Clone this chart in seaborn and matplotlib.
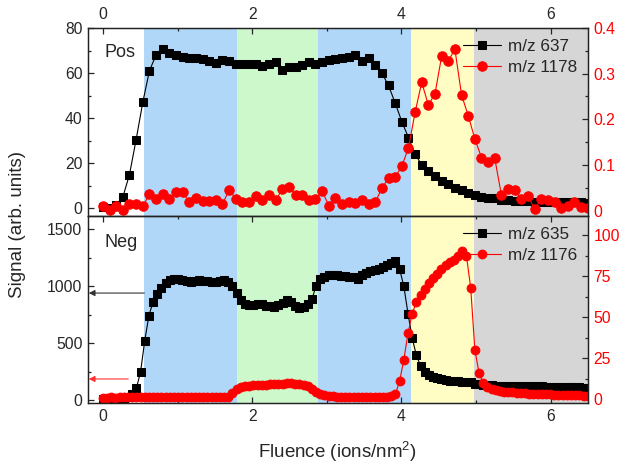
import pandas as pd
import seaborn as sns
import matplotlib.pyplot as plt
from matplotlib.ticker import MultipleLocator

# ---- data ----
fluence_pos = [0, 0.089, 0.178, 0.267, 0.356, 0.445, 0.534, 0.623, 0.712, 0.801,
               0.89, 0.979, 1.068, 1.157, 1.246, 1.335, 1.424, 1.513, 1.602, 1.691,
               1.78, 1.869, 1.958, 2.047, 2.136, 2.225, 2.314, 2.403, 2.492, 2.581,
               2.67, 2.759, 2.848, 2.937, 3.026, 3.115, 3.204, 3.293, 3.382, 3.471,
               3.56, 3.649, 3.738, 3.827, 3.916, 4.005, 4.094, 4.183, 4.272, 4.361,
               4.45, 4.539, 4.628, 4.717, 4.806, 4.895, 4.984, 5.073, 5.162, 5.251,
               5.34, 5.429, 5.518, 5.607, 5.696, 5.785, 5.874, 5.963, 6.052, 6.141,
               6.23, 6.319, 6.408, 6.497]
mz637 = [0.5, 0.3, 1.5, 5, 15, 30.5, 47, 61, 68, 70.5,
         69, 68, 67.3, 66.8, 66.7, 66.3, 65.5, 64.5, 66, 65.5,
         64, 64, 64.2, 63.8, 63, 63.8, 65, 61.5, 62.5, 62.6,
         63.5, 65, 63.8, 65, 65.8, 66.4, 66.8, 67.2, 67.9, 65.5,
         66.7, 63.7, 60, 54.5, 46.7, 38.5, 31.4, 24, 19.3, 16.7,
         14.3, 12.1, 10.6, 9.1, 8.1, 6.9, 5.9, 5.1, 4.6, 4.4,
         3.9, 3.7, 3.4, 3.3, 3.1, 3.0, 3.0, 2.9, 2.8, 2.8,
         2.7, 2.6, 2.6, 2.5]
mz1178 = [0.009, 0.001, 0.011, 0.001, 0.014, 0.014, 0.009, 0.036, 0.026, 0.036,
          0.026, 0.040, 0.040, 0.019, 0.027, 0.021, 0.020, 0.023, 0.014, 0.045,
          0.026, 0.019, 0.019, 0.031, 0.022, 0.033, 0.022, 0.047, 0.051, 0.035,
          0.033, 0.024, 0.025, 0.043, 0.011, 0.028, 0.015, 0.018, 0.017, 0.022,
          0.015, 0.018, 0.049, 0.071, 0.073, 0.097, 0.137, 0.215, 0.281, 0.231,
          0.256, 0.338, 0.328, 0.353, 0.253, 0.208, 0.157, 0.116, 0.106, 0.114,
          0.034, 0.048, 0.044, 0.025, 0.032, 0.003, 0.025, 0.023, 0.018, 0.005,
          0.011, 0.018, 0.007, 0.005]

fluence_neg = [0, 0.056, 0.112, 0.168, 0.224, 0.28, 0.336, 0.392, 0.448, 0.504,
               0.56, 0.616, 0.672, 0.728, 0.784, 0.84, 0.896, 0.952, 1.008, 1.064,
               1.12, 1.176, 1.232, 1.288, 1.344, 1.4, 1.456, 1.512, 1.568, 1.624,
               1.68, 1.736, 1.792, 1.848, 1.904, 1.96, 2.016, 2.072, 2.128, 2.184,
               2.24, 2.296, 2.352, 2.408, 2.464, 2.52, 2.576, 2.632, 2.688, 2.744,
               2.8, 2.856, 2.912, 2.968, 3.024, 3.08, 3.136, 3.192, 3.248, 3.304,
               3.36, 3.416, 3.472, 3.528, 3.584, 3.64, 3.696, 3.752, 3.808, 3.864,
               3.92, 3.976, 4.032, 4.088, 4.144, 4.2, 4.256, 4.312, 4.368, 4.424,
               4.48, 4.536, 4.592, 4.648, 4.704, 4.76, 4.816, 4.872, 4.928, 4.984,
               5.04, 5.096, 5.152, 5.208, 5.264, 5.32, 5.376, 5.432, 5.488, 5.544,
               5.6, 5.656, 5.712, 5.768, 5.824, 5.88, 5.936, 5.992, 6.048, 6.104,
               6.16, 6.216, 6.272, 6.328, 6.384, 6.44, 6.496]
mz635 = [5, 5, 5, 6, 8, 12, 25, 50, 103, 245,
         520, 740, 865, 930, 985, 1030, 1058, 1066, 1064, 1058,
         1050, 1040, 1045, 1052, 1050, 1048, 1035, 1040, 1046, 1052,
         1040, 1000, 940, 880, 848, 834, 835, 841, 846, 830,
         822, 820, 832, 850, 880, 860, 825, 812, 818, 840,
         885, 1002, 1060, 1084, 1096, 1098, 1098, 1092, 1088, 1084,
         1078, 1062, 1100, 1118, 1132, 1140, 1150, 1170, 1190, 1205,
         1222, 1150, 1000, 760, 545, 395, 300, 248, 222, 205,
         190, 182, 175, 168, 165, 163, 160, 158, 155, 145,
         138, 134, 131, 129, 127, 126, 125, 124, 123, 123,
         122, 121, 121, 120, 119, 119, 118, 117, 117, 116,
         115, 114, 113, 112, 111, 110, 109]
mz1176 = [0.8, 0.9, 1.0, 0.9, 1.0, 1.1, 1.0, 1.0, 1.1, 1.0,
          1.1, 1.0, 1.1, 1.2, 1.1, 1.0, 1.1, 1.2, 1.1, 1.1,
          1.2, 1.1, 1.2, 1.1, 1.2, 1.3, 1.2, 1.3, 1.4, 1.5,
          1.5, 3.5, 6, 7.5, 8, 8.2, 8.3, 8.5, 8.6, 8.8,
          8.9, 9, 9.1, 9.2, 9.8, 9.5, 9.3, 9.2, 8.8, 7.8,
          6, 4, 2.8, 2.2, 1.8, 1.6, 1.5, 1.4, 1.4, 1.4,
          1.4, 1.4, 1.4, 1.4, 1.4, 1.4, 1.4, 1.4, 1.5, 1.6,
          3, 11, 24, 40, 52, 59, 63.5, 67, 70.5, 73.5,
          76.5, 79, 81.5, 83.5, 85, 87.5, 90, 87, 68, 30,
          16, 9.5, 7.5, 6.3, 5.5, 5, 4.6, 4.3, 4, 3.8,
          3.6, 3.4, 3.3, 3.2, 3.1, 3, 2.9, 2.8, 2.7, 2.6,
          2.5, 2.4, 2.3, 2.3, 2.2, 2.1, 2.0]

# fluence ranges of the shaded regions
region_edges = [0.555, 1.8, 2.88, 4.125, 4.97, 6.6]
region_colors = ['#b0d6f8', '#ccf8cc', '#b0d6f8', '#fffcc4', '#d6d6d6']

pos = pd.DataFrame({'fluence': fluence_pos, 'm637': mz637, 'm1178': mz1178})
neg = pd.DataFrame({'fluence': fluence_neg, 'm635': mz635, 'm1176': mz1176})

sns.set_style('ticks')
plt.rcParams['font.family'] = ['Liberation Sans', 'DejaVu Sans']
plt.rcParams['mathtext.default'] = 'regular'

fig = plt.figure(figsize=(6.29, 4.71), dpi=100)
ax_top = fig.add_axes([0.1399, 0.5414, 0.7949, 0.3992])
ax_bot = fig.add_axes([0.1399, 0.1444, 0.7949, 0.397])
ax_top_r = ax_top.twinx()
ax_bot_r = ax_bot.twinx()

for ax in (ax_top, ax_bot):
    for i, c in enumerate(region_colors):
        ax.axvspan(region_edges[i], region_edges[i + 1], color=c, lw=0, zorder=0)

line_kw = dict(linewidth=0.8, errorbar=None)
sns.lineplot(data=pos, x='fluence', y='m637', ax=ax_top, color='black', marker='s',
             markersize=5.5, markeredgecolor='black', label='m/z 637', **line_kw)
sns.lineplot(data=pos, x='fluence', y='m1178', ax=ax_top_r, color='red', marker='o',
             markersize=6.8, markeredgecolor='red', label='m/z 1178', **line_kw)
sns.lineplot(data=neg, x='fluence', y='m635', ax=ax_bot, color='black', marker='s',
             markersize=5.5, markeredgecolor='black', label='m/z 635', **line_kw)
sns.lineplot(data=neg, x='fluence', y='m1176', ax=ax_bot_r, color='red', marker='o',
             markersize=6.3, markeredgecolor='red', label='m/z 1176', **line_kw)

for ax in (ax_top, ax_bot, ax_top_r, ax_bot_r):
    ax.set_xlim(-0.2, 6.5)
    ax.set_xlabel('')
    ax.set_ylabel('')
    if ax.get_legend():
        ax.get_legend().remove()
    for s in ax.spines.values():
        s.set_visible(True)
        s.set_linewidth(0.9)
        s.set_color('#222222')

ax_top.set_ylim(-3.4, 80)
ax_top_r.set_ylim(-0.012, 0.4)
ax_bot.set_ylim(-26, 1617)
ax_bot_r.set_ylim(-2.4, 111.6)

ax_top.yaxis.set_major_locator(MultipleLocator(20))
ax_top.yaxis.set_minor_locator(MultipleLocator(10))
ax_top_r.set_yticks([0, 0.1, 0.2, 0.3, 0.4], labels=['0', '0.1', '0.2', '0.3', '0.4'])
ax_top_r.yaxis.set_minor_locator(MultipleLocator(0.05))
ax_bot.yaxis.set_major_locator(MultipleLocator(500))
ax_bot.yaxis.set_minor_locator(MultipleLocator(250))
ax_bot_r.yaxis.set_major_locator(MultipleLocator(25))
ax_bot_r.yaxis.set_minor_locator(MultipleLocator(12.5))

for ax in (ax_top, ax_bot):
    ax.xaxis.set_major_locator(MultipleLocator(2))
    ax.xaxis.set_minor_locator(MultipleLocator(1))

ax_top.tick_params(axis='x', which='both', direction='in', top=True, bottom=False,
                   labeltop=True, labelbottom=False)
ax_top_r.tick_params(axis='x', which='both', top=False, bottom=False,
                     labeltop=False, labelbottom=False)
ax_bot.tick_params(axis='x', which='both', direction='in', top=True, bottom=True,
                   labeltop=False, labelbottom=True)
ax_bot_r.tick_params(axis='x', which='both', top=False, bottom=False,
                     labeltop=False, labelbottom=False)
for ax in (ax_top, ax_bot):
    ax.tick_params(axis='y', which='both', direction='in', left=True, right=False)
for ax in (ax_top_r, ax_bot_r):
    ax.tick_params(axis='y', which='both', direction='in', right=True, left=False,
                   labelcolor='red')
for ax in (ax_top, ax_bot, ax_top_r, ax_bot_r):
    ax.tick_params(which='major', length=4, width=0.9, labelsize=11.3, pad=4)
    ax.tick_params(which='minor', length=2.5, width=0.9)

ax_top.text(0.034, 0.872, 'Pos', transform=ax_top.transAxes, fontsize=13, va='center')
ax_bot.text(0.034, 0.856, 'Neg', transform=ax_bot.transAxes, fontsize=13, va='center')

ax_bot.annotate('', xy=(-0.19, 940), xytext=(0.555, 940),
                arrowprops=dict(arrowstyle='-|>', color='#333333', lw=0.8,
                                mutation_scale=9, shrinkA=0, shrinkB=0))
ax_bot.annotate('', xy=(-0.19, 185), xytext=(0.34, 185),
                arrowprops=dict(arrowstyle='-|>', color='#ff3030', lw=0.8,
                                mutation_scale=9, shrinkA=0, shrinkB=0))

for ax_l, ax_r in ((ax_top, ax_top_r), (ax_bot, ax_bot_r)):
    handles = ax_l.get_lines()[:1] + ax_r.get_lines()[:1]
    ax_r.legend(handles, [h.get_label() for h in handles], loc='upper right',
                bbox_to_anchor=(0.995, 0.985), frameon=False, fontsize=12.3,
                handlelength=2.2, handletextpad=0.4, labelspacing=0.35,
                borderaxespad=0.1)

fig.text(0.028, 0.524, 'Signal (arb. units)', rotation=90, ha='center',
         va='center', fontsize=13.5)
fig.text(0.537, 0.04, 'Fluence (ions/nm$^2$)', ha='center', va='center',
         fontsize=13.5)

fig.savefig('out.png', dpi=100)
